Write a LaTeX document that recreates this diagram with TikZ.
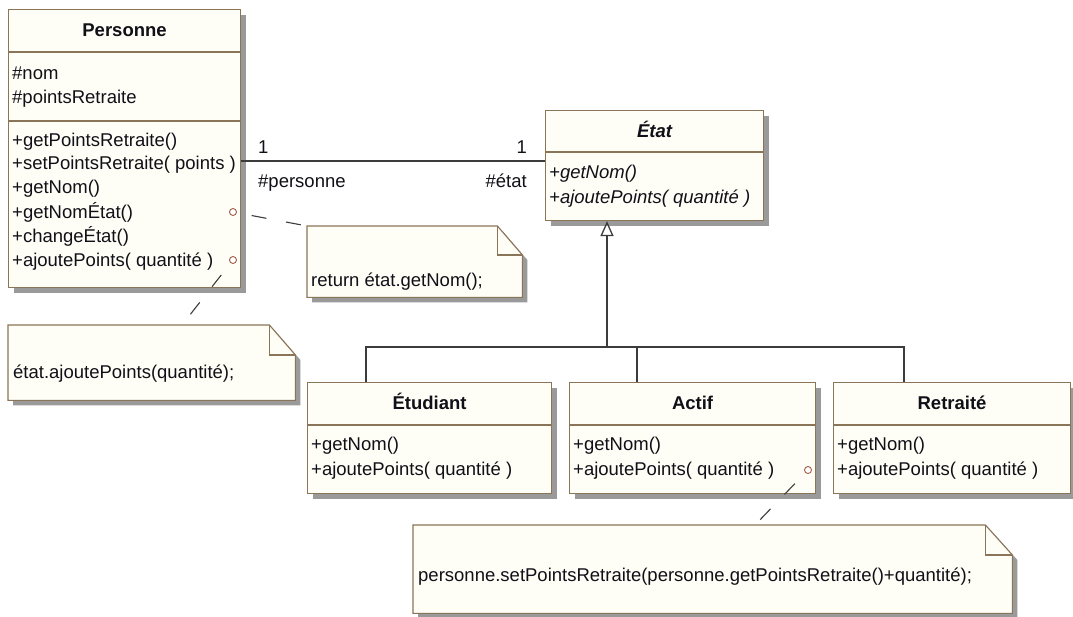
\documentclass[tikz,border=0pt]{standalone}
\usepackage{fontspec}
\setmainfont{Liberation Sans}
\usetikzlibrary{calc,arrows.meta,shadows}

\definecolor{boxline}{HTML}{8A7558}
\definecolor{boxfill}{HTML}{FFFEF6}
\definecolor{shadowgray}{HTML}{9A9A9A}
\definecolor{linec}{HTML}{3C3C3C}
\definecolor{textc}{HTML}{101018}
\definecolor{pinc}{HTML}{A0604A}

% note with a folded top-right corner, drawn around a placeholder node
\newcommand{\drawnote}[3]{% #1 node name, #2 fold width, #3 fold height
  \draw[noteline, general shadow={fill=shadowgray, shadow xshift=5pt, shadow yshift=-5pt}]
    (#1.north west) -- ([xshift=-#2]#1.north east) -- ([yshift=-#3]#1.north east)
    -- (#1.south east) -- (#1.south west) -- cycle;
  \draw[noteline, fill=none] ([xshift=-#2]#1.north east) |- ([yshift=-#3]#1.north east);
}

\begin{document}
\begin{tikzpicture}[x=1pt, y=-1pt,
  classbox/.style={rectangle, draw=boxline, fill=boxfill, line width=1.1pt,
    inner sep=0pt, anchor=north west,
    general shadow={fill=shadowgray, shadow xshift=5pt, shadow yshift=-5pt}},
  sepline/.style={draw=boxline, line width=1.1pt},
  noteplace/.style={rectangle, inner sep=0pt, anchor=north west},
  noteline/.style={draw=boxline, fill=boxfill, line width=1.1pt},
  txt/.style={inner sep=0pt, text=textc, text height=13.3pt, text depth=0pt,
    font=\fontsize{18.5}{24}\selectfont},
  member/.style={txt, anchor=west},
  ctitle/.style={txt, font=\fontsize{18.5}{24}\selectfont\bfseries},
  pin/.style={circle, draw=pinc, fill=white, line width=0.9pt, inner sep=0pt, minimum size=7pt},
  assoc/.style={draw=linec, line width=1.3pt},
  notelink/.style={draw=linec, line width=1.1pt, dash pattern=on 15pt off 20pt, dash phase=20pt},
  genline/.style={draw=linec, line width=1.3pt}
]
\useasboundingbox (0,0) rectangle (1073,617);
\fill[white] (0,0) rectangle (1073,617);

% ---------- Personne ----------
\node[classbox, minimum width=232pt, minimum height=278pt] (personne) at (8,9) {};
\draw[sepline] (personne.west |- 0,52) -- (personne.east |- 0,52);
\draw[sepline] (personne.west |- 0,121) -- (personne.east |- 0,121);
\node[ctitle] (personne-name) at (personne.north |- 0,30) {Personne};
\node[member] (pers-a1) at (12,73) {\#nom};
\node[member] (pers-a2) at (12,97) {\#pointsRetraite};
\node[member] (pers-m1) at (12,140) {+getPointsRetraite()};
\node[member] (pers-m2) at (12,163) {+setPointsRetraite( points )};
\node[member] (pers-m3) at (12,187) {+getNom()};
\node[member] (pers-m4) at (12,212) {+getNomÉtat()};
\node[member] (pers-m5) at (12,236) {+changeÉtat()};
\node[member] (pers-m6) at (12,260) {+ajoutePoints( quantité )};
\node[pin] (pers-pin1) at (233,212) {};
\node[pin] (pers-pin2) at (233,260) {};

% ---------- État ----------
\node[classbox, minimum width=218pt, minimum height=110pt] (etat) at (545,110) {};
\draw[sepline] (etat.west |- 0,152) -- (etat.east |- 0,152);
\node[ctitle, font=\fontsize{18.5}{24}\selectfont\bfseries\itshape] (etat-name) at (etat.north |- 0,131) {État};
\node[member, font=\fontsize{18.5}{24}\selectfont\itshape] (etat-m1) at (549,172) {+getNom()};
\node[member, font=\fontsize{18.5}{24}\selectfont\itshape] (etat-m2) at (549,197) {+ajoutePoints( quantité )};

% ---------- association Personne -- État ----------
\draw[assoc] (personne.east |- 0,161) -- (etat.west |- 0,161);
\node[txt, anchor=west] (mult-p) at (258,147) {1};
\node[txt, anchor=east] (mult-e) at (527,147) {1};
\node[txt, anchor=west] (role-p) at (258,181) {\#personne};
\node[txt, anchor=east] (role-e) at (527,181) {\#état};

% ---------- subclasses ----------
\node[classbox, minimum width=244pt, minimum height=111pt] (etudiant) at (307,382) {};
\draw[sepline] (etudiant.west |- 0,425) -- (etudiant.east |- 0,425);
\node[ctitle] (etudiant-name) at (etudiant.north |- 0,403) {Étudiant};
\node[member] (etu-m1) at (311,444) {+getNom()};
\node[member] (etu-m2) at (311,469) {+ajoutePoints( quantité )};

\node[classbox, minimum width=246pt, minimum height=111pt] (actif) at (569,382) {};
\draw[sepline] (actif.west |- 0,425) -- (actif.east |- 0,425);
\node[ctitle] (actif-name) at (actif.north |- 0,403) {Actif};
\node[member] (act-m1) at (573,444) {+getNom()};
\node[member] (act-m2) at (573,469) {+ajoutePoints( quantité )};
\node[pin] (act-pin) at (808,470) {};

\node[classbox, minimum width=237pt, minimum height=111pt] (retraite) at (833,382) {};
\draw[sepline] (retraite.west |- 0,425) -- (retraite.east |- 0,425);
\node[ctitle] (retraite-name) at (retraite.north |- 0,403) {Retraité};
\node[member] (ret-m1) at (837,444) {+getNom()};
\node[member] (ret-m2) at (837,469) {+ajoutePoints( quantité )};

% ---------- generalisation ----------
\coordinate (hub) at (607,347);
\coordinate (bar-l) at (366,347);
\coordinate (bar-m) at (637,347);
\coordinate (bar-r) at (904,347);
\draw[genline, -{Triangle[open, width=13pt, length=15pt]}] (hub) -- (etat.south -| hub);
\draw[genline] (etudiant.north -| bar-l) -- (bar-l) -- (bar-r) -- (retraite.north -| bar-r);
\draw[genline] (actif.north -| bar-m) -- (bar-m);

% ---------- notes ----------
\node[noteplace, minimum width=215pt, minimum height=71pt] (note-nom) at (307,226) {};
\drawnote{note-nom}{25pt}{29pt}
\node[member] (note-nom-txt) at (311,280) {return état.getNom();};

\node[noteplace, minimum width=287pt, minimum height=75pt] (note-ajout) at (8,325) {};
\drawnote{note-ajout}{26pt}{30pt}
\node[member] (note-ajout-txt) at (13,372) {état.ajoutePoints(quantité);};
\coordinate (note-ajout-pin) at (182,325);

\node[noteplace, minimum width=599pt, minimum height=88pt] (note-actif) at (413,525) {};
\drawnote{note-actif}{27pt}{30pt}
\node[member] (note-actif-txt) at (418,575) {personne.setPointsRetraite(personne.getPointsRetraite()+quantité);};
\coordinate (note-actif-pin) at (755,525);

% ---------- note anchors ----------
\draw[notelink] (pers-pin1) -- (note-nom.north west);
\draw[notelink] (pers-pin2) -- (note-ajout-pin);
\draw[notelink] (act-pin) -- (note-actif-pin);

\end{tikzpicture}
\end{document}
